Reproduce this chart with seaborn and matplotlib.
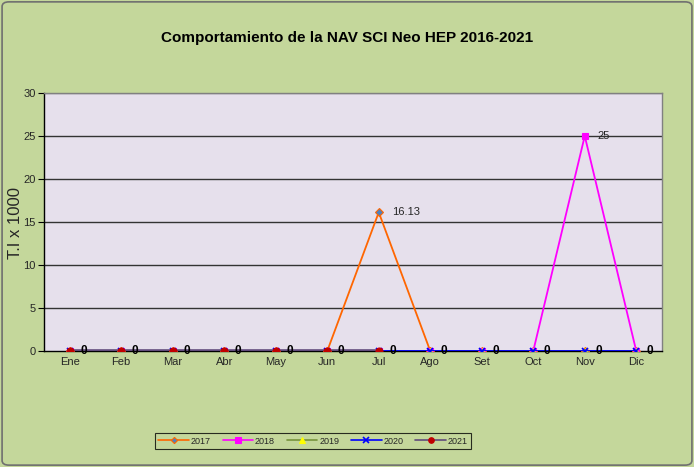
import matplotlib
matplotlib.use("Agg")
import matplotlib.pyplot as plt
from matplotlib.patches import FancyBboxPatch
from matplotlib.lines import Line2D
import numpy as np
import pandas as pd
import seaborn as sns

meses = ["Ene", "Feb", "Mar", "Abr", "May", "Jun", "Jul", "Ago", "Set", "Oct", "Nov", "Dic"]
v2017 = [0, 0, 0, 0, 0, 0, 16.13, 0, 0, 0, 0, 0]
v2018 = [0, 0, 0, 0, 0, 0, 0, 0, 0, 0, 25, 0]
v2019 = [0, 0, 0, 0, 0, 0, 0, 0, 0, 0, 0, 0]
v2020 = [0, 0, 0, 0, 0, 0, 0, 0, 0, 0, 0, 0]
v2021 = [0, 0, 0, 0, 0, 0, 0, None, None, None, None, None]

series = {"2017": v2017, "2018": v2018, "2019": v2019, "2020": v2020, "2021": v2021}
rows = []
for anio, vals in series.items():
    for i, (m, v) in enumerate(zip(meses, vals)):
        rows.append({"mes": i, "valor": np.nan if v is None else v, "anio": anio})
df = pd.DataFrame(rows)

sns.set_theme(style="white")
plt.rcParams["font.family"] = ["Liberation Sans", "DejaVu Sans"]

BG = "#C4D79B"
PLOT_BG = "#E6E0EC"

fig = plt.figure(figsize=(6.94, 4.67), dpi=100, facecolor=BG)
ax = fig.add_axes([44 / 694, 1 - 351 / 467, 618 / 694, 258 / 467])
ax.set_facecolor(PLOT_BG)

estilos = {
    "2017": dict(color="#FF6600", marker="D", ms=4, mfc="#4F81BD", mec="#FF6600", lw=1.3, mew=0.8),
    "2018": dict(color="#FF00FF", marker="s", ms=5, mfc="#FF00FF", mec="#FF00FF", lw=1.3, mew=0.8),
    "2019": dict(color="#77933C", marker="^", ms=5, mfc="#FFFF00", mec="#FFFF00", lw=1.3, mew=0.8),
    "2020": dict(color="#0000FF", marker="x", ms=5, mfc="#0000FF", mec="#0000FF", lw=1.3, mew=1.2),
    "2021": dict(color="#604A7B", marker="o", ms=5, mfc="#C00000", mec="#C00000", lw=2.6, mew=0.8),
}

# horizontal gridlines
for yv in range(5, 31, 5):
    ax.axhline(yv, color="#333333" if yv < 30 else "#808080", lw=1.0, zorder=1)

for anio, st in estilos.items():
    sub = df[df["anio"] == anio]
    sns.lineplot(data=sub, x="mes", y="valor", ax=ax, color=st["color"], lw=st["lw"],
                 marker=st["marker"], markersize=st["ms"], markerfacecolor=st["mfc"],
                 markeredgecolor=st["mec"], markeredgewidth=st["mew"], legend=False,
                 zorder=3, estimator=None)

# data labels
for i in range(len(meses)):
    ax.text(i + 0.2, 0, "0", fontsize=8.5, fontweight="bold", va="center", ha="left",
            color="black", zorder=5)
ax.text(6 + 0.25, v2017[6], f"{v2017[6]:g}", fontsize=8, va="center", ha="left", zorder=5)
ax.text(10 + 0.25, v2018[10], f"{v2018[10]:g}", fontsize=8, va="center", ha="left", zorder=5)

ax.set_xlim(-0.5, 11.5)
ax.set_ylim(0, 30)
ax.set_xticks(range(12))
ax.set_xticklabels(meses, fontsize=8)
ax.set_xticks(np.arange(-0.5, 12, 1), minor=True)
ax.tick_params(axis="x", which="major", length=0, pad=4)
ax.tick_params(axis="x", which="minor", length=3, width=0.8, color="black", direction="out")
ax.set_yticks(range(0, 31, 5))
ax.tick_params(axis="y", labelsize=8, length=4, width=0.8, color="black", direction="out", left=True, pad=2)
ax.set_xlabel("")
ax.set_ylabel("")

for side in ["top", "right"]:
    ax.spines[side].set_color("#808080")
    ax.spines[side].set_linewidth(1.0)
ax.spines["left"].set_color("black")
ax.spines["bottom"].set_color("black")
ax.spines["left"].set_linewidth(1.0)
ax.spines["bottom"].set_linewidth(1.0)

fig.text(16 / 694, 1 - 223 / 467, "T.I x 1000", rotation=90, fontsize=12,
         ha="center", va="center")
fig.text(0.5, 1 - 38 / 467, "Comportamiento de la NAV SCI Neo HEP 2016-2021",
         fontsize=11, fontweight="bold", ha="center", va="center", color="black")

handles = [Line2D([], [], color=st["color"], lw=1.2, marker=st["marker"], markersize=st["ms"] * 0.8,
                  markerfacecolor=st["mfc"], markeredgecolor=st["mec"], markeredgewidth=st["mew"])
           for st in estilos.values()]
leg = fig.legend(handles, list(estilos.keys()), loc="center", bbox_to_anchor=(313 / 694, 1 - 441 / 467),
                 ncol=5, fontsize=6.5, frameon=True, fancybox=False, edgecolor="black",
                 handlelength=3.4, handletextpad=0.2, columnspacing=1.3, borderpad=0.4)
leg.get_frame().set_facecolor(BG)
leg.get_frame().set_linewidth(0.8)

fig.patches.append(FancyBboxPatch((0.003, 0.004), 0.994, 0.992, boxstyle="round,pad=0,rounding_size=0.01",
                                  transform=fig.transFigure, fill=False, edgecolor="#707070",
                                  lw=1.2, zorder=0))

fig.savefig("out.png", dpi=100, facecolor=BG)
